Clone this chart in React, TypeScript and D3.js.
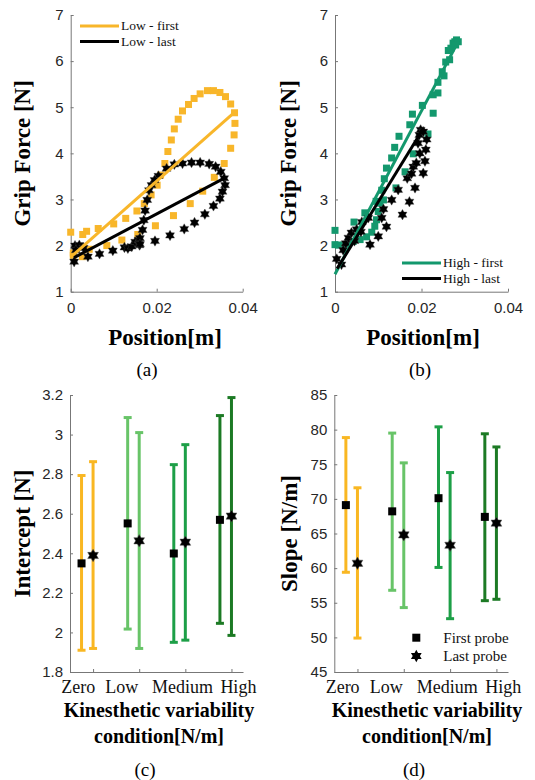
import React, { useEffect, useRef } from 'react';
import * as d3 from 'd3';

// panel (a) - low variability, position vs grip force
const lowFirst: [number, number][] = [
  [0.0, 2.29], [0.0028, 2.24], [0.0037, 2.31], [0.0064, 2.37], [0.01, 2.47], [0.0128, 2.59],
  [0.0154, 2.75], [0.0171, 2.91], [0.0187, 3.1], [0.0201, 3.31], [0.0209, 3.53], [0.0219, 3.78],
  [0.0226, 4.04], [0.0234, 4.29], [0.0241, 4.53], [0.025, 4.74], [0.026, 4.92], [0.0274, 5.06],
  [0.0287, 5.19], [0.0301, 5.29], [0.0318, 5.36], [0.0332, 5.36], [0.0347, 5.32], [0.036, 5.23],
  [0.0372, 5.07], [0.0381, 4.88], [0.0382, 4.65], [0.038, 4.4], [0.0372, 4.11], [0.0357, 3.78],
  [0.0334, 3.48], [0.0307, 3.18], [0.0278, 2.91], [0.0239, 2.65], [0.0197, 2.43], [0.0156, 2.24],
  [0.0119, 2.12], [0.0084, 2.0], [0.0043, 1.92], [0.0027, 1.76], [0.0006, 1.79], [0.0006, 1.84]
];
const lowLast: [number, number][] = [
  [0.0008, 1.65], [0.001, 2.0], [0.002, 2.01], [0.0012, 1.9], [0.003, 1.95], [0.004, 1.76],
  [0.0067, 1.82], [0.0098, 1.89], [0.0125, 1.96], [0.0133, 1.94], [0.0142, 1.98], [0.015, 2.08],
  [0.0158, 2.12], [0.016, 2.01], [0.0161, 2.16], [0.0167, 2.34], [0.017, 2.55], [0.0173, 2.76],
  [0.0178, 2.99], [0.0188, 3.31], [0.0204, 3.51], [0.0223, 3.67], [0.0241, 3.76], [0.026, 3.78],
  [0.0281, 3.8], [0.0301, 3.8], [0.0322, 3.77], [0.0337, 3.71], [0.0349, 3.6], [0.0357, 3.46],
  [0.0359, 3.31], [0.0353, 3.17], [0.0347, 3.02], [0.0332, 2.86], [0.0312, 2.68], [0.0288, 2.5],
  [0.0264, 2.36], [0.0231, 2.22], [0.0196, 2.1], [0.0161, 2.03], [0.0182, 3.2], [0.0195, 3.42]
];
const lowFirstFit: [number, number][] = [[0.0006, 1.8], [0.0382, 4.9]];
const lowLastFit: [number, number][] = [[0.0008, 1.74], [0.0353, 3.44]];

// panel (b) - high variability
const highFirst: [number, number][] = [
  [0.0, 2.33], [0.0, 2.02], [0.0008, 2.01], [0.0019, 2.01], [0.0031, 2.04], [0.0042, 2.09],
  [0.0044, 2.51], [0.0058, 2.13], [0.0069, 2.71], [0.0073, 2.19], [0.0085, 2.29], [0.0092, 2.42],
  [0.0096, 2.56], [0.0095, 2.96], [0.01, 2.74], [0.0104, 2.92], [0.0112, 2.99], [0.0108, 3.2],
  [0.0114, 3.45], [0.0119, 3.68], [0.0131, 3.9], [0.0138, 4.13], [0.0148, 4.37], [0.0141, 3.25],
  [0.0162, 3.6], [0.0181, 3.99], [0.0173, 4.62], [0.0179, 4.85], [0.0202, 5.04], [0.0215, 4.42],
  [0.0227, 4.87], [0.0227, 5.27], [0.0238, 5.31], [0.0238, 5.54], [0.0248, 5.77], [0.0252, 5.68],
  [0.0256, 5.98], [0.0265, 6.03], [0.0262, 6.23], [0.0268, 6.28], [0.0273, 6.39], [0.0277, 6.42],
  [0.0281, 6.46], [0.0285, 6.42], [0.0279, 6.35]
];
const highLast: [number, number][] = [
  [0.0004, 1.71], [0.0015, 1.59], [0.0019, 1.9], [0.0025, 2.05], [0.0031, 2.17], [0.0038, 2.28],
  [0.005, 2.35], [0.0062, 2.51], [0.0077, 2.6], [0.0081, 2.02], [0.01, 2.2], [0.0108, 2.6],
  [0.0112, 2.79], [0.0119, 2.41], [0.0131, 2.99], [0.0146, 3.21], [0.0156, 2.67], [0.0167, 3.46],
  [0.0172, 2.95], [0.0177, 3.56], [0.0185, 3.25], [0.0181, 3.71], [0.0188, 3.79], [0.0196, 4.0],
  [0.0192, 4.22], [0.0195, 4.4], [0.0198, 4.51], [0.0204, 3.57], [0.0208, 3.83], [0.021, 4.08],
  [0.0212, 4.3], [0.0204, 4.47], [0.0045, 2.1], [0.006, 2.3]
];
const highFirstFit: [number, number][] = [[0.0, 1.38], [0.0279, 6.32]];
const highLastFit: [number, number][] = [[0.0005, 1.5], [0.0205, 4.55]];

// panels (c) and (d)
const conditions = ['Zero', 'Low', 'Medium', 'High'];
const conditionColors = ['#f9b722', '#68c468', '#1d9f47', '#1c7a24'];
const conditionLabelPos = [0.68, 1.62, 2.94, 4.15];
const interceptFirst = [2.349, 2.551, 2.399, 2.569];
const interceptFirstLo = [1.91, 2.017, 1.95, 2.046];
const interceptFirstHi = [2.793, 3.086, 2.848, 3.096];
const interceptLast = [2.389, 2.463, 2.456, 2.588];
const interceptLastLo = [1.919, 1.919, 1.961, 1.985];
const interceptLastHi = [2.863, 3.01, 2.949, 3.187];
const slopeFirst = [69.1, 68.2, 70.1, 67.4];
const slopeFirstLo = [59.4, 56.8, 60.1, 55.3];
const slopeFirstHi = [78.85, 79.5, 80.4, 79.4];
const slopeLast = [60.7, 64.8, 63.3, 66.5];
const slopeLastLo = [49.9, 54.3, 52.7, 55.5];
const slopeLastHi = [71.6, 75.2, 73.8, 77.5];

const SERIF = '"Liberation Serif", "Times New Roman", serif';
const SANS = '"Liberation Sans", Arial, sans-serif';
const AXIS = '#777';
const TICK_TEXT = '#262626';

const hexagram = (r: number) => {
  const pts: string[] = [];
  for (let i = 0; i < 12; i++) {
    const a = -Math.PI / 2 + (i * Math.PI) / 6;
    const rr = i % 2 === 0 ? r : r / Math.sqrt(3);
    pts.push(`${(rr * Math.cos(a)).toFixed(2)},${(rr * Math.sin(a)).toFixed(2)}`);
  }
  return 'M' + pts.join('L') + 'Z';
};

const styleAxis = (ax: any) => {
  ax.select('.domain').attr('stroke', AXIS);
  ax.selectAll('.tick line').attr('stroke', AXIS);
  ax.selectAll('text').attr('fill', TICK_TEXT).style('font-family', SANS).style('font-size', '15px');
};

const drawScatter = (svg: any, cfg: any) => {
  const x = d3.scaleLinear().domain([0, 0.04]).range(cfg.xr);
  const y = d3.scaleLinear().domain([1, 7]).range([291.7, 15]);
  const g = svg.append('g');

  const ay = g.append('g').attr('transform', `translate(${cfg.xr[0]},0)`)
    .call(d3.axisLeft(y).ticks(6).tickSizeInner(-3).tickSizeOuter(0).tickPadding(7));
  styleAxis(ay);
  const ax = g.append('g').attr('transform', `translate(0,${y(1)})`)
    .call(d3.axisBottom(x).tickValues([0, 0.02, 0.04]).tickFormat(d3.format('')).tickSizeInner(-3).tickSizeOuter(0));
  styleAxis(ax);
  ax.selectAll('text').attr('y', 21).attr('dy', 0);

  const sq = 7;
  g.append('g').selectAll('rect').data(cfg.first).join('rect')
    .attr('x', (d: any) => x(d[0]) - sq / 2).attr('y', (d: any) => y(d[1]) - sq / 2)
    .attr('width', sq).attr('height', sq).attr('fill', cfg.color);
  g.append('g').selectAll('path').data(cfg.last).join('path')
    .attr('d', hexagram(5.2))
    .attr('transform', (d: any) => `translate(${x(d[0])},${y(d[1])})`)
    .attr('fill', '#000').attr('stroke', '#444').attr('stroke-width', 0.4);

  const line = d3.line<[number, number]>().x(d => x(d[0])).y(d => y(d[1]));
  g.append('path').attr('d', line(cfg.firstFit)).attr('stroke', cfg.color).attr('stroke-width', 3).attr('fill', 'none');
  g.append('path').attr('d', line(cfg.lastFit)).attr('stroke', '#000').attr('stroke-width', 3).attr('fill', 'none');

  // legend
  const lg = g.append('g');
  cfg.legend.forEach((l: any, i: number) => {
    const ly = cfg.legendY + i * 15.5;
    lg.append('line').attr('x1', cfg.legendX).attr('x2', cfg.legendX + 39).attr('y1', ly).attr('y2', ly)
      .attr('stroke', l.color).attr('stroke-width', 3);
    lg.append('text').attr('x', cfg.legendX + 41).attr('y', ly).attr('dy', '0.33em')
      .style('font-family', SERIF).style('font-size', '13.5px').attr('fill', '#111').text(l.text);
  });

  g.append('text').attr('transform', `translate(${cfg.ylabX},${y(4)}) rotate(-90)`).attr('text-anchor', 'middle')
    .style('font-family', SERIF).style('font-size', '23px').style('font-weight', 'bold').text('Grip Force [N]');
  g.append('text').attr('x', cfg.xlabX).attr('y', 345).attr('text-anchor', 'middle')
    .style('font-family', SERIF).style('font-size', '23px').style('font-weight', 'bold').text('Position[m]');
  g.append('text').attr('x', cfg.tagX).attr('y', 376).attr('text-anchor', 'middle')
    .style('font-family', SERIF).style('font-size', '19px').text(cfg.tag);
};

const drawErrors = (svg: any, cfg: any) => {
  const x = d3.scaleLinear().domain([0.5, 4.25]).range(cfg.xr);
  const y = d3.scaleLinear().domain(cfg.yd).range([672, 395]);
  const g = svg.append('g');

  const ay = g.append('g').attr('transform', `translate(${cfg.xr[0]},0)`)
    .call(d3.axisLeft(y).tickValues(cfg.yTicks).tickFormat((d: any) => String(+(+d).toFixed(1)))
      .tickSizeInner(-3).tickSizeOuter(0).tickPadding(7));
  styleAxis(ay);
  const ax = g.append('g').attr('transform', `translate(0,672)`)
    .call(d3.axisBottom(x).tickValues([1, 2, 3, 4]).tickFormat(() => '').tickSizeInner(-3).tickSizeOuter(0));
  styleAxis(ax);

  g.append('g').selectAll('text').data(conditions).join('text')
    .attr('x', (_: any, i: number) => x(conditionLabelPos[i])).attr('y', 693).attr('text-anchor', 'middle')
    .style('font-family', SERIF).style('font-size', '18px').attr('fill', '#111').text((d: any) => d);

  const series = [
    { off: -0.25, m: cfg.first, lo: cfg.firstLo, hi: cfg.firstHi, star: false },
    { off: 0, m: cfg.last, lo: cfg.lastLo, hi: cfg.lastHi, star: true }
  ];
  const capW = 8;
  series.forEach(s => {
    const bars = g.append('g');
    conditions.forEach((_, i) => {
      const cx = x(i + 1 + s.off);
      const c = conditionColors[i];
      bars.append('line').attr('x1', cx).attr('x2', cx).attr('y1', y(s.lo[i])).attr('y2', y(s.hi[i]))
        .attr('stroke', c).attr('stroke-width', 3);
      bars.append('line').attr('x1', cx - capW / 2).attr('x2', cx + capW / 2).attr('y1', y(s.lo[i])).attr('y2', y(s.lo[i]))
        .attr('stroke', c).attr('stroke-width', 3);
      bars.append('line').attr('x1', cx - capW / 2).attr('x2', cx + capW / 2).attr('y1', y(s.hi[i])).attr('y2', y(s.hi[i]))
        .attr('stroke', c).attr('stroke-width', 3);
    });
  });
  series.forEach(s => {
    const pts = g.append('g');
    s.m.forEach((v: number, i: number) => {
      const cx = x(i + 1 + s.off);
      if (s.star) {
        pts.append('path').attr('d', hexagram(6.2)).attr('transform', `translate(${cx},${y(v)})`)
          .attr('fill', '#000').attr('stroke', '#555').attr('stroke-width', 0.5);
      } else {
        pts.append('rect').attr('x', cx - 4).attr('y', y(v) - 4).attr('width', 8).attr('height', 8).attr('fill', '#000');
      }
    });
  });

  if (cfg.legend) {
    const lx = cfg.xr[0] + 82;
    g.append('rect').attr('x', lx - 4).attr('y', 637.7 - 4).attr('width', 8).attr('height', 8).attr('fill', '#000');
    g.append('path').attr('d', hexagram(6.2)).attr('transform', `translate(${lx},656)`).attr('fill', '#000');
    g.append('text').attr('x', lx + 27).attr('y', 637.7).attr('dy', '0.33em')
      .style('font-family', SERIF).style('font-size', '15px').attr('fill', '#111').text('First probe');
    g.append('text').attr('x', lx + 27).attr('y', 656).attr('dy', '0.33em')
      .style('font-family', SERIF).style('font-size', '15px').attr('fill', '#111').text('Last probe');
  }

  g.append('text').attr('transform', `translate(${cfg.ylabX},${y((cfg.yd[0] + cfg.yd[1]) / 2)}) rotate(-90)`)
    .attr('text-anchor', 'middle')
    .style('font-family', SERIF).style('font-size', '23px').style('font-weight', 'bold').text(cfg.ylab);
  g.append('text').attr('x', cfg.labX).attr('y', 717).attr('text-anchor', 'middle')
    .style('font-family', SERIF).style('font-size', '20px').style('font-weight', 'bold').text('Kinesthetic variability');
  g.append('text').attr('x', cfg.labX).attr('y', 743).attr('text-anchor', 'middle')
    .style('font-family', SERIF).style('font-size', '20px').style('font-weight', 'bold').text('condition[N/m]');
  g.append('text').attr('x', cfg.tagX).attr('y', 776).attr('text-anchor', 'middle')
    .style('font-family', SERIF).style('font-size', '19px').text(cfg.tag);
};

const App = () => {
  const ref = useRef<SVGSVGElement>(null);

  useEffect(() => {
    if (!ref.current) return;
    const svg = d3.select(ref.current);
    svg.selectAll('*').remove();
    svg.append('rect').attr('width', 535).attr('height', 780).attr('fill', '#fff');

    drawScatter(svg, {
      xr: [70.7, 242.7], first: lowFirst, last: lowLast, firstFit: lowFirstFit, lastFit: lowLastFit,
      color: '#f8b62a', legendX: 80, legendY: 26,
      legend: [{ color: '#f8b62a', text: 'Low - first' }, { color: '#000', text: 'Low - last' }],
      ylabX: 30, xlabX: 165, tagX: 147, tag: '(a)'
    });
    drawScatter(svg, {
      xr: [335, 508], first: highFirst, last: highLast, firstFit: highFirstFit, lastFit: highLastFit,
      color: '#13986d', legendX: 402, legendY: 263,
      legend: [{ color: '#13986d', text: 'High - first' }, { color: '#000', text: 'High - last' }],
      ylabX: 296, xlabX: 423, tagX: 420, tag: '(b)'
    });
    drawErrors(svg, {
      xr: [70, 243], yd: [1.8, 3.2], yTicks: d3.range(1.8, 3.21, 0.2),
      first: interceptFirst, firstLo: interceptFirstLo, firstHi: interceptFirstHi,
      last: interceptLast, lastLo: interceptLastLo, lastHi: interceptLastHi,
      ylab: 'Intercept [N]', ylabX: 30, labX: 159, tagX: 145, tag: '(c)', legend: false
    });
    drawErrors(svg, {
      xr: [334.3, 508], yd: [45, 85], yTicks: d3.range(45, 86, 5),
      first: slopeFirst, firstLo: slopeFirstLo, firstHi: slopeFirstHi,
      last: slopeLast, lastLo: slopeLastLo, lastHi: slopeLastHi,
      ylab: 'Slope [N/m]', ylabX: 297, labX: 427, tagX: 414, tag: '(d)', legend: true
    });
  }, []);

  return (
    <svg ref={ref} width={535} height={780} style={{ position: 'absolute', left: 0, top: 0 }} />
  );
};

export default App;
